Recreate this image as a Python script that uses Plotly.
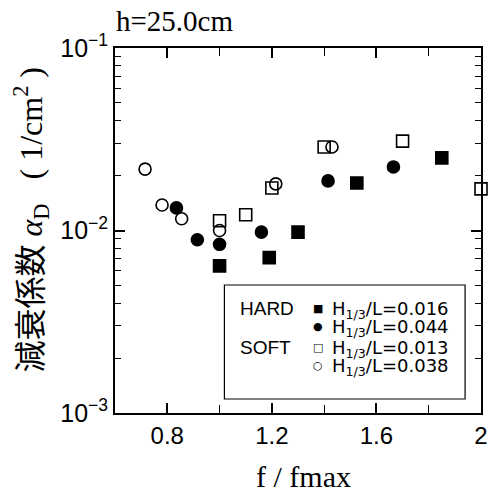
import plotly.graph_objects as go

# ---- data ----
hard_016_x = [1.00, 1.19, 1.30, 1.525, 1.85]
hard_016_y = [0.0064, 0.0071, 0.0098, 0.0182, 0.0250]

hard_044_x = [0.835, 0.915, 1.00, 1.16, 1.415, 1.665]
hard_044_y = [0.0133, 0.0089, 0.0084, 0.0098, 0.0187, 0.0223]

soft_013_x = [1.00, 1.10, 1.20, 1.40, 1.70, 2.00]
soft_013_y = [0.0113, 0.0122, 0.0171, 0.0287, 0.0309, 0.0169]

soft_038_x = [0.715, 0.78, 0.855, 1.00, 1.215, 1.43]
soft_038_y = [0.0217, 0.0138, 0.0116, 0.0100, 0.0180, 0.0287]

series_names = ["H<sub>1/3</sub>/L=0.016", "H<sub>1/3</sub>/L=0.044",
                "H<sub>1/3</sub>/L=0.013", "H<sub>1/3</sub>/L=0.038"]
legend_symbols = ["■", "●", "□", "○"]
group_labels = ["HARD", "SOFT"]
x_ticks = [0.8, 1.2, 1.6, 2.0]
x_tick_text = ["0.8", "1.2", "1.6", "2"]
y_ticks = [0.001, 0.01, 0.1]
y_tick_text = ["10<sup>−3</sup>", "10<sup>−2</sup>", "10<sup>−1</sup>"]

sans = "Liberation Sans, Arial, sans-serif"
wide_sans = "DejaVu Sans, Liberation Sans, sans-serif"
serif = "Liberation Serif, Times New Roman, serif"

# The page body has an 8px margin, so the figure is drawn 8px in from the
# window's top-left corner; size the figure to the visible area.
OFF = 8
FIG_W, FIG_H = 500 - OFF, 492 - OFF
# plot-area geometry in window pixels
L, R, T, B = 115, 483, 48, 413
W, H = R - L, B - T


def px(x):
    return (x - L) / W


def py(y):
    return (B - y) / H


fig = go.Figure()
specs = [
    (hard_016_x, hard_016_y, series_names[0], "square"),
    (hard_044_x, hard_044_y, series_names[1], "circle"),
    (soft_013_x, soft_013_y, series_names[2], "square-open"),
    (soft_038_x, soft_038_y, series_names[3], "circle-open"),
]
for xs, ys, name, sym in specs:
    fig.add_trace(go.Scatter(
        x=xs, y=ys, mode="markers", name=name,
        marker=dict(symbol=sym, size=12, color="black",
                    line=dict(color="black", width=1.6)),
        cliponaxis=False,
    ))

annotations = [
    dict(text="h=25.0cm", xref="paper", yref="paper", x=px(114), y=py(21),
         xanchor="left", yanchor="middle", showarrow=False,
         font=dict(family=serif, size=29)),
    dict(text="f / fmax", xref="paper", yref="paper", x=px(305), y=py(476),
         xanchor="center", yanchor="middle", showarrow=False,
         font=dict(family=serif, size=30)),
    dict(text="減衰係数 <i>α</i><sub>D</sub>   ( 1/cm<sup>2</sup> )",
         xref="paper", yref="paper", x=px(31), y=py(220),
         xanchor="center", yanchor="middle", textangle=-90, showarrow=False,
         font=dict(family="Liberation Serif, Noto Sans CJK JP, serif", size=32)),
]
# legend (drawn inside a framed box like the reference)
row_y = [308, 326, 347, 365]
for i, (sym, name) in enumerate(zip(legend_symbols, series_names)):
    annotations.append(dict(text=sym, xref="paper", yref="paper", x=px(319), y=py(row_y[i]),
                            xanchor="center", yanchor="middle", showarrow=False,
                            font=dict(family="DejaVu Sans, sans-serif", size=11)))
    annotations.append(dict(text=name, xref="paper", yref="paper", x=px(331), y=py(row_y[i] + 2),
                            xanchor="left", yanchor="middle", showarrow=False,
                            font=dict(family=wide_sans, size=18)))
for lab, yy in zip(group_labels, [row_y[0], row_y[2]]):
    annotations.append(dict(text=lab, xref="paper", yref="paper", x=px(239), y=py(yy),
                            xanchor="left", yanchor="middle", showarrow=False,
                            font=dict(family=sans, size=19)))

fig.update_layout(
    width=FIG_W, height=FIG_H,
    margin=dict(l=L - OFF, r=500 - R, t=T - OFF, b=492 - B),
    paper_bgcolor="white", plot_bgcolor="white",
    font=dict(family=sans, size=20, color="black"),
    showlegend=False,
    xaxis=dict(
        range=[0.6, 2.0], tickmode="array", tickvals=x_ticks, ticktext=x_tick_text,
        ticks="inside", ticklen=10, tickwidth=1.5, tickcolor="black",
        minor=dict(ticks="inside", ticklen=8, tickwidth=1.2, tickcolor="black",
                   tickvals=[1.0, 1.4, 1.8]),
        showline=True, linecolor="black", linewidth=2, mirror="ticks",
        showgrid=False, zeroline=False,
        tickfont=dict(family=sans, size=24),
    ),
    yaxis=dict(
        type="log", range=[-3, -1], tickmode="array", tickvals=y_ticks, ticktext=y_tick_text,
        ticks="inside", ticklen=10, tickwidth=1.5, tickcolor="black",
        minor=dict(ticks="inside", ticklen=6, tickwidth=1.2, tickcolor="black",
                   dtick="D1"),
        showline=True, linecolor="black", linewidth=2, mirror="ticks",
        showgrid=False, zeroline=False,
        tickfont=dict(family=sans, size=25),
    ),
    shapes=[dict(type="rect", xref="paper", yref="paper",
                 x0=px(225), x1=px(467), y0=py(399), y1=py(285),
                 line=dict(color="black", width=1.2), fillcolor="rgba(0,0,0,0)")],
    annotations=annotations,
)

fig.write_html("out.html")
